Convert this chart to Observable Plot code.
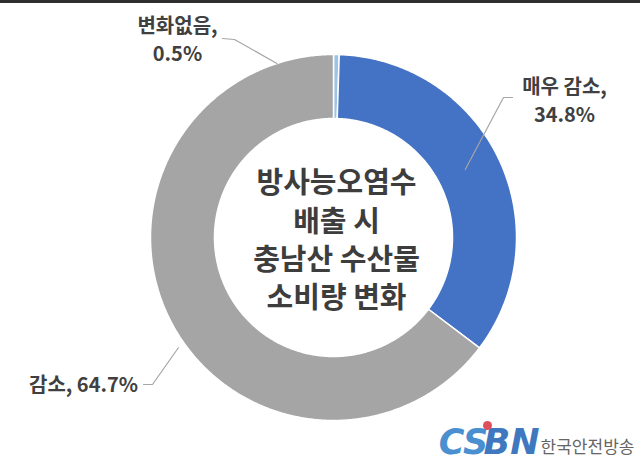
<!DOCTYPE html>
<html>
<head>
<meta charset="utf-8">
<script src="https://cdn.jsdelivr.net/npm/d3@7"></script>
<script src="https://cdn.jsdelivr.net/npm/@observablehq/plot@0.6"></script>
<style>
  html, body { margin: 0; padding: 0; background: #fff; }
  #wrap { position: relative; width: 640px; height: 463px; overflow: hidden; }
  #strip { position: absolute; left: 0; top: 0; width: 640px; height: 3px; background: #2e2e2e; }
</style>
</head>
<body>
<div id="wrap"><div id="strip"></div></div>
<script>
// ---- data ----
const categories = ["변화없음", "매우 감소", "감소"];
const values = [0.5, 34.8, 64.7];
const labelTexts = ["변화없음,\n0.5%", "매우 감소,\n34.8%", "감소, 64.7%"];
const sliceColors = ["#9DC3E6", "#4472C4", "#A5A5A5"];
const centerTitle = ["방사능오염수", "배출 시", "충남산 수산물", "소비량 변화"];
const logoText = "한국안전방송";

// ---- layout ----
const W = 640, H = 463;
const cx = 333, cy = 237, rOuter = 183, rInner = 119;
const labelLayout = [
  {x: 177, y: 38, elbow: [[222, 38], [234, 39]], endDeg: -18, endR: 1.0},
  {x: 564, y: 99, elbow: [[512, 97], [503, 97]], endDeg: 62.7, endR: 0.81},
  {x: 83,  y: 383, elbow: [[143, 384], [152, 384]], endDeg: 234.6, endR: 1.04}
];

const polar = (deg, r) => {
  const a = deg * Math.PI / 180;
  return [cx + r * Math.sin(a), cy - r * Math.cos(a)];
};

// build donut slice polygons from values
const total = d3.sum(values);
const slicePts = [];
let acc = 0;
values.forEach((v, i) => {
  const a0 = acc / total * 360, a1 = (acc + v) / total * 360;
  acc += v;
  const n = Math.max(2, Math.ceil((a1 - a0) / 0.5));
  for (let k = 0; k <= n; k++) {
    const [x, y] = polar(a0 + (a1 - a0) * k / n, rOuter);
    slicePts.push({key: categories[i], color: sliceColors[i], x, y});
  }
  for (let k = n; k >= 0; k--) {
    const [x, y] = polar(a0 + (a1 - a0) * k / n, rInner);
    slicePts.push({key: categories[i], color: sliceColors[i], x, y});
  }
});

// leader lines
const leaderPts = [];
labelLayout.forEach((L, i) => {
  L.elbow.forEach(([x, y]) => leaderPts.push({key: categories[i], x, y}));
  const [ex, ey] = polar(L.endDeg, L.endR * rOuter);
  leaderPts.push({key: categories[i], x: ex, y: ey});
});

const labelData = categories.map((c, i) => ({text: labelTexts[i], x: labelLayout[i].x, y: labelLayout[i].y}));

const font = "'Noto Sans CJK KR', 'Noto Sans', sans-serif";

const chart = Plot.plot({
  width: W, height: H, margin: 0,
  x: {domain: [0, W], range: [0, W], axis: null},
  y: {domain: [0, H], range: [0, H], axis: null},
  style: {background: "transparent"},
  marks: [
    Plot.line(slicePts, {x: "x", y: "y", z: "key", fill: "color", stroke: "white", strokeWidth: 1.5, curve: "linear-closed"}),
    Plot.line(leaderPts, {x: "x", y: "y", z: "key", stroke: "#A6A6A6", strokeWidth: 1.2}),
    Plot.text(labelData, {x: "x", y: "y", text: "text", fontSize: 20, fontWeight: "bold", fill: "#404040", lineHeight: 1.4, fontFamily: font}),
    Plot.text([centerTitle.join("\n")], {x: cx + 3, y: cy + 1, text: d => d, fontSize: 29, fontWeight: "bold", fill: "#3d3d3d", lineHeight: 1.32, fontFamily: font}),
    // logo
    Plot.text(["CS"], {x: 463, y: 442, text: d => d, fontSize: 35, fontWeight: 900, fontStyle: "italic", fill: "#4A90D0", fontFamily: "'DejaVu Sans', sans-serif", textAnchor: "middle"}),
    Plot.text(["BN"], {x: 511, y: 442, text: d => d, fontSize: 35, fontWeight: 900, fontStyle: "italic", fill: "#3F78BE", fontFamily: "'DejaVu Sans', sans-serif", textAnchor: "middle"}),
    Plot.dot([0], {x: 487, y: 425, r: 4.5, fill: "#E0505C"}),
    Plot.text([logoText], {x: 587, y: 447, text: d => d, fontSize: 17, fill: "#666", fontFamily: font, textAnchor: "middle"})
  ]
});
document.getElementById("wrap").appendChild(chart);
</script>
</body>
</html>
